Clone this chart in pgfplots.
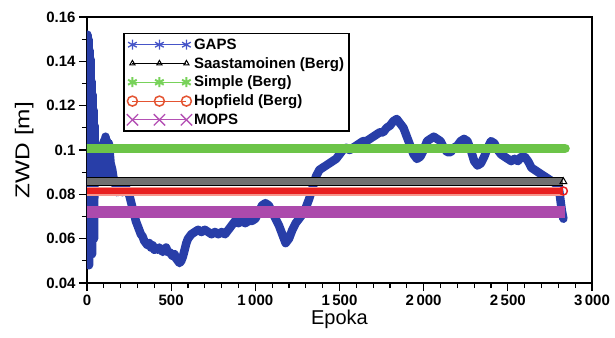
\documentclass[border=0pt]{standalone}
\usepackage{fontspec}
\setmainfont{Liberation Sans}
\newfontfamily\widefont[FakeStretch=1.22]{Liberation Sans}
\usepackage{pgfplots}
\usepackage{pgfplotstable}
\pgfplotsset{compat=1.18}
\usetikzlibrary{calc}

\definecolor{gapsblue}{RGB}{40,62,168}
\definecolor{gapslegend}{RGB}{70,85,200}
\definecolor{simplegreen}{RGB}{108,196,72}
\definecolor{simplelegend}{RGB}{120,210,90}
\definecolor{hopred}{RGB}{232,32,32}
\definecolor{hopedge}{RGB}{246,150,140}
\definecolor{hoplegend}{RGB}{228,84,50}
\definecolor{mopsmag}{RGB}{172,74,172}
\definecolor{mopslegend}{RGB}{180,80,180}
\definecolor{saasgrey}{RGB}{112,112,112}

% GAPS zenith wet delay per epoch
\pgfplotstableread{
epoka zwd
0 0.050
3 0.152
6 0.062
9 0.150
12 0.048
15 0.145
18 0.056
21 0.141
24 0.066
27 0.131
30 0.053
33 0.125
36 0.070
39 0.118
42 0.060
45 0.111
48 0.086
52 0.102
56 0.087
60 0.101
65 0.086
70 0.100
75 0.088
80 0.102
85 0.086
90 0.101
95 0.088
100 0.104
105 0.089
110 0.106
115 0.090
120 0.104
125 0.088
130 0.103
140 0.094
150 0.091
160 0.086
170 0.084
180 0.081
190 0.082
200 0.083
210 0.081
220 0.084
230 0.083
240 0.082
250 0.080
260 0.077
270 0.074
280 0.071
290 0.068
300 0.066
310 0.064
320 0.062
330 0.061
340 0.059
350 0.058
360 0.057
370 0.058
380 0.056
390 0.057
400 0.055
410 0.056
420 0.055
430 0.056
440 0.055
450 0.054
460 0.055
470 0.056
480 0.054
490 0.054
500 0.053
510 0.052
520 0.053
530 0.051
540 0.050
550 0.049
560 0.050
570 0.052
580 0.055
590 0.058
600 0.060
610 0.061
620 0.062
640 0.063
660 0.064
680 0.063
700 0.064
720 0.063
740 0.062
760 0.063
780 0.062
800 0.063
820 0.062
840 0.064
860 0.066
880 0.068
900 0.067
920 0.068
940 0.067
960 0.068
980 0.068
1000 0.069
1020 0.072
1040 0.075
1060 0.076
1080 0.075
1100 0.072
1120 0.069
1140 0.066
1160 0.062
1180 0.058
1200 0.060
1220 0.064
1240 0.067
1260 0.069
1280 0.071
1300 0.074
1320 0.078
1340 0.083
1360 0.088
1380 0.091
1400 0.092
1420 0.093
1440 0.094
1460 0.095
1480 0.096
1500 0.098
1520 0.100
1540 0.101
1560 0.100
1580 0.101
1600 0.102
1620 0.103
1640 0.104
1660 0.104
1680 0.105
1700 0.106
1720 0.107
1740 0.108
1760 0.108
1780 0.110
1800 0.111
1820 0.113
1840 0.114
1860 0.112
1880 0.110
1900 0.106
1920 0.102
1940 0.098
1960 0.096
1980 0.097
2000 0.100
2020 0.104
2040 0.105
2060 0.106
2080 0.105
2100 0.104
2120 0.101
2140 0.099
2160 0.099
2180 0.101
2200 0.102
2220 0.104
2240 0.105
2260 0.104
2280 0.100
2300 0.095
2320 0.093
2340 0.094
2360 0.097
2380 0.101
2400 0.104
2420 0.103
2440 0.100
2460 0.098
2480 0.097
2500 0.096
2520 0.095
2540 0.096
2560 0.095
2580 0.097
2600 0.097
2620 0.095
2640 0.092
2660 0.091
2680 0.090
2700 0.089
2720 0.088
2740 0.087
2760 0.086
2780 0.085
2800 0.084
2810 0.079
2820 0.073
2830 0.069
}\gaps

\begin{document}
\begin{tikzpicture}
\begin{axis}[
  scale only axis,
  width=505pt, height=266pt,
  xmin=0, xmax=3000, ymin=0.04, ymax=0.16,
  xtick={0,500,1000,1500,2000,2500,3000},
  xticklabels={0,500,1\,000,1\,500,2\,000,2\,500,3\,000},
  ytick={0.04,0.06,0.08,0.1,0.12,0.14,0.16},
  yticklabels={0.04,0.06,0.08,0.1,0.12,0.14,0.16},
  minor x tick num=4, minor y tick num=1,
  tick align=outside, xtick pos=left, ytick pos=left,
  major tick length=8pt, minor tick length=5pt,
  tick style={black, line width=1.3pt},
  axis line style={line width=1.5pt},
  ticklabel style={font=\fontsize{15}{15}\selectfont\bfseries},
  xlabel={Epoka}, ylabel={ZWD [m]},
  label style={font=\fontsize{20}{20}\selectfont},
  xlabel style={yshift=2pt},
  ylabel style={font=\fontsize{20}{20}\selectfont\widefont, yshift=6pt},
  legend image code/.code={\draw[#1] plot coordinates {(0pt,0pt) (27pt,0pt) (54pt,0pt)};},
  legend style={at={(0.0713,0.94)}, anchor=north west, draw=black,
    line width=1.5pt, fill=white, inner xsep=3pt, inner ysep=3pt,
    row sep=2.5pt, font=\fontsize{15}{15}\selectfont\bfseries,
    nodes={inner xsep=2pt, inner ysep=2pt},
    every even column/.style={column sep=8pt}},
  legend cell align=left,
]
% GAPS series
\addplot[gapsblue, line width=8.5pt, line join=round, line cap=round, forget plot] table[x=epoka, y=zwd] {\gaps};
% Saastamoinen (Berg)
\addplot[black, line width=1.2pt, double=saasgrey, double distance=6.5pt, forget plot]
  coordinates {(0,0.0857) (2830,0.0857)};
\addplot[only marks, mark=triangle, mark size=4pt, mark options={black, line width=1pt, fill=white}, forget plot]
  coordinates {(2830,0.0857)};
% Simple (Berg)
\addplot[simplegreen, line width=9.5pt, line cap=round, forget plot]
  coordinates {(0,0.1007) (2840,0.1007)};
% Hopfield (Berg)
\addplot[hopedge, line width=1.5pt, double=hopred, double distance=6pt, forget plot]
  coordinates {(0,0.0815) (2830,0.0815)};
\addplot[only marks, mark=o, mark size=4pt, mark options={hopred, line width=1.5pt, fill=white}, forget plot]
  coordinates {(2830,0.0815)};
% MOPS
\addplot[mopsmag, line width=12pt, forget plot]
  coordinates {(0,0.0720) (2840,0.0720)};

\addlegendimage{gapslegend, line width=0.8pt, mark=asterisk, mark size=5pt, mark options={line width=1.3pt}}
\addlegendentry{GAPS}
\addlegendimage{black, line width=1pt, mark=triangle, mark size=3pt, mark options={line width=1pt, fill=white}}
\addlegendentry{Saastamoinen (Berg)}
\addlegendimage{simplelegend, line width=1pt, mark=asterisk, mark size=5pt, mark options={line width=2pt}}
\addlegendentry{Simple (Berg)}
\addlegendimage{hoplegend, line width=1.2pt, mark=o, mark size=5pt, mark options={line width=1.5pt, fill=white}}
\addlegendentry{Hopfield (Berg)}
\addlegendimage{mopslegend, line width=1pt, mark=x, mark size=8pt, mark options={line width=1.3pt}}
\addlegendentry{MOPS}
\end{axis}
\pgfresetboundingbox
\path ($(current axis.south west)+(-87pt,-54pt)$) rectangle ($(current axis.north east)+(23pt,17pt)$);
\end{tikzpicture}
\end{document}
